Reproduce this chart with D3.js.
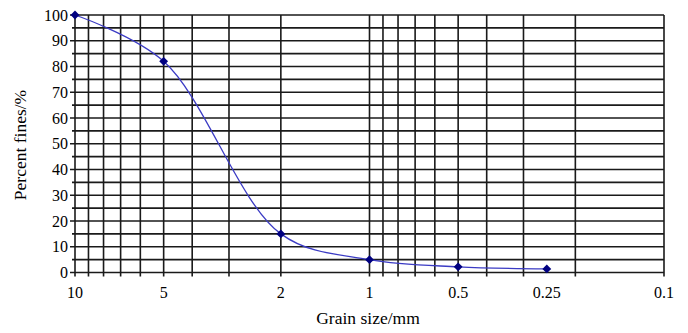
<!DOCTYPE html>
<html>
  <head>
    <meta charset="utf-8">
    <script src="https://cdn.jsdelivr.net/npm/d3@7/dist/d3.min.js" type="text/javascript"></script>
    <style>
      body { margin: 0; background: white; }
      text { font-family: "Liberation Serif", "Times New Roman", serif; fill: black; }
      .grid line { stroke: #1a1a1a; stroke-width: 1.6px; }
    </style>
  </head>
  <body>
    <svg id="chart" width="688" height="333"></svg>
    <script>
      // grain size (mm) and percent passing
      var grainSizes = [10, 5, 2, 1, 0.5, 0.25];
      var percentFines = [100, 82, 15, 5, 2.2, 1.4];
      var xTickLabels = [10, 5, 2, 1, 0.5, 0.25, 0.1];
      var yTicks = [0, 10, 20, 30, 40, 50, 60, 70, 80, 90, 100];

      var svg = d3.select("#chart");
      var plotL = 75, plotR = 664, plotT = 15, plotB = 272.5;

      var x = d3.scaleLog().domain([10, 0.1]).range([plotL, plotR]);
      var y = d3.scaleLinear().domain([0, 100]).range([plotB, plotT]);

      // vertical log grid: 1..9 in each decade
      var xGrid = [];
      [1, 0.1].forEach(function(dec) {
        for (var k = 10; k >= 1; k--) {
          var v = +(k * dec).toFixed(3);
          if (xGrid.indexOf(v) < 0) xGrid.push(v);
        }
      });
      var yGrid = d3.range(0, 101, 5);

      var g = svg.append("g").attr("class", "grid");

      g.selectAll(".hl").data(yGrid).enter().append("line")
        .attr("x1", d => d % 10 === 0 ? plotL - 5 : plotL - 3)
        .attr("x2", plotR)
        .attr("y1", d => y(d)).attr("y2", d => y(d));

      g.selectAll(".vl").data(xGrid).enter().append("line")
        .attr("x1", d => x(d)).attr("x2", d => x(d))
        .attr("y1", plotT).attr("y2", plotB + 4);

      svg.selectAll(".ylab").data(yTicks).enter().append("text")
        .attr("x", 68).attr("y", d => y(d))
        .attr("dy", "0.35em")
        .attr("text-anchor", "end")
        .style("font-size", "16px")
        .text(d => d);

      svg.selectAll(".xlab").data(xTickLabels).enter().append("text")
        .attr("x", d => x(d)).attr("y", 298)
        .attr("text-anchor", "middle")
        .style("font-size", "16px")
        .text(d => d);

      svg.append("text")
        .attr("x", 368).attr("y", 324)
        .attr("text-anchor", "middle")
        .style("font-size", "17.5px")
        .text("Grain size/mm");

      svg.append("text")
        .attr("transform", "translate(26,145) rotate(-90)")
        .attr("text-anchor", "middle")
        .style("font-size", "17.5px")
        .text("Percent fines/%");

      var pts = grainSizes.map((d, i) => [d, percentFines[i]]);

      var line = d3.line()
        .x(d => x(d[0])).y(d => y(d[1]))
        .curve(d3.curveCatmullRom.alpha(0.5));

      svg.append("path")
        .datum(pts)
        .attr("d", line)
        .style("fill", "none")
        .style("stroke", "#3b3bc4")
        .style("stroke-width", "1.3px");

      svg.selectAll(".pt").data(pts).enter().append("path")
        .attr("d", d3.symbol().type(d3.symbolDiamond2).size(50))
        .attr("transform", d => "translate(" + x(d[0]) + "," + y(d[1]) + ")")
        .style("fill", "#000080");
    </script>
  </body>
</html>
